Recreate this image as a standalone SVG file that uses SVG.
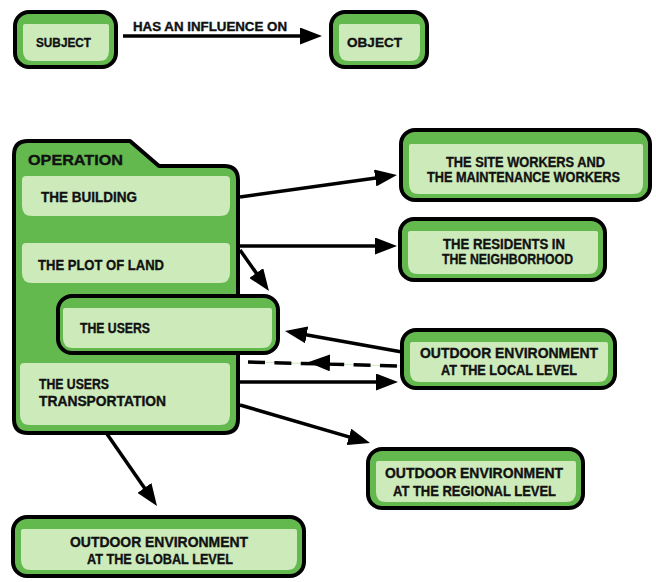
<svg xmlns="http://www.w3.org/2000/svg" width="656" height="582" viewBox="0 0 656 582">
<defs>
<style>
.box{fill:#63b84e;stroke:#000;stroke-width:4;stroke-linejoin:round}
.pan{fill:#cdeabb}
.t{font-family:"Liberation Sans",Arial,sans-serif;font-weight:bold;font-size:14px;fill:#111;stroke:#111;stroke-width:0.35}
.s{font-size:13.5px}
.c{fill:none;stroke:#000;stroke-width:3.5;marker-end:url(#ah)}
.d{fill:none;stroke:#000;stroke-width:3.5;stroke-dasharray:17 9.4}
.g{fill:none;stroke:#cdeabb;stroke-width:1}
.h{fill:none;stroke:none;marker-end:url(#ah)}
</style>
<marker id="ah" markerUnits="userSpaceOnUse" viewBox="0 0 22 17" refX="8" refY="8.5" markerWidth="22" markerHeight="17" orient="auto">
<polygon points="0,0 22,8.5 0,17" fill="#000"/>
</marker>
</defs>
<rect width="656" height="582" fill="#fff"/>

<g id="subject">
<rect class="box" x="15" y="12" width="101" height="55" rx="14"/>
<path class="pan" d="M25 24 H107 Q109 24 109 26 V51 Q109 61 99 61 H33 Q23 61 23 51 V26 Q23 24 25 24 Z"/>
<text class="t s" x="36" y="47" textLength="55" lengthAdjust="spacingAndGlyphs">SUBJECT</text>
</g>

<g id="object">
<rect class="box" x="331" y="12" width="96" height="55" rx="14"/>
<path class="pan" d="M341 24 H418 Q420 24 420 26 V51 Q420 61 410 61 H349 Q339 61 339 51 V26 Q339 24 341 24 Z"/>
<text class="t s" x="347" y="47" textLength="55" lengthAdjust="spacingAndGlyphs">OBJECT</text>
</g>

<g id="operation">
<path class="box" d="M14 155 Q14 141 28 141 H130 L159 166 H224 Q238 166 238 180 V419 Q238 433 224 433 H28 Q14 433 14 419 Z"/>
<text class="t" style="font-size:14.5px" x="28" y="165" textLength="95" lengthAdjust="spacingAndGlyphs">OPERATION</text>
<g id="building">
<path class="pan" d="M26 176 H226 Q230 176 230 180 V206 Q230 216 220 216 H32 Q22 216 22 206 V180 Q22 176 26 176 Z"/>
<text class="t" x="41" y="201.5" textLength="96" lengthAdjust="spacingAndGlyphs">THE BUILDING</text>
</g>
<g id="plot">
<path class="pan" d="M26 243 H226 Q230 243 230 247 V273 Q230 283 220 283 H32 Q22 283 22 273 V247 Q22 243 26 243 Z"/>
<text class="t" x="38" y="270" textLength="126" lengthAdjust="spacingAndGlyphs">THE PLOT OF LAND</text>
</g>
<g id="transportation">
<path class="pan" d="M24 363 H226 Q230 363 230 367 V415 Q230 425 220 425 H30 Q20 425 20 415 V367 Q20 363 24 363 Z"/>
<text class="t" x="39" y="389" textLength="70" lengthAdjust="spacingAndGlyphs">THE USERS</text>
<text class="t" x="39" y="405.5" textLength="127" lengthAdjust="spacingAndGlyphs">TRANSPORTATION</text>
</g>
</g>

<g id="users">
<rect class="box" x="58" y="296" width="220" height="57" rx="14"/>
<path class="pan" d="M65 308 H270 Q272 308 272 310 V338 Q272 348 262 348 H73 Q63 348 63 338 V310 Q63 308 65 308 Z"/>
<text class="t" x="80" y="333" textLength="70" lengthAdjust="spacingAndGlyphs">THE USERS</text>
</g>

<g id="workers">
<rect class="box" x="401" y="130" width="249" height="70" rx="14"/>
<path class="pan" d="M411 144 H641 Q643 144 643 146 V184 Q643 194 633 194 H419 Q409 194 409 184 V146 Q409 144 411 144 Z"/>
<text class="t" x="446" y="166.5" textLength="159" lengthAdjust="spacingAndGlyphs">THE SITE WORKERS AND</text>
<text class="t" x="427" y="181.5" textLength="193" lengthAdjust="spacingAndGlyphs">THE MAINTENANCE WORKERS</text>
</g>

<g id="residents">
<rect class="box" x="400" y="219" width="205" height="61" rx="14"/>
<path class="pan" d="M410 231 H596 Q598 231 598 233 V264 Q598 274 588 274 H418 Q408 274 408 264 V233 Q408 231 410 231 Z"/>
<text class="t" x="443" y="248.5" textLength="122" lengthAdjust="spacingAndGlyphs">THE RESIDENTS IN</text>
<text class="t" x="442" y="263.5" textLength="131" lengthAdjust="spacingAndGlyphs">THE NEIGHBORHOOD</text>
</g>

<g id="local">
<rect class="box" x="402" y="330" width="213" height="58" rx="14"/>
<path class="pan" d="M412 342 H606 Q608 342 608 344 V372 Q608 382 598 382 H420 Q410 382 410 372 V344 Q410 342 412 342 Z"/>
<text class="t" x="420" y="358" textLength="178" lengthAdjust="spacingAndGlyphs">OUTDOOR ENVIRONMENT</text>
<text class="t" x="441" y="375" textLength="136" lengthAdjust="spacingAndGlyphs">AT THE LOCAL LEVEL</text>
</g>

<g id="regional">
<rect class="box" x="368" y="449" width="215" height="59" rx="14"/>
<path class="pan" d="M378 461 H574 Q576 461 576 463 V492 Q576 502 566 502 H386 Q376 502 376 492 V463 Q376 461 378 461 Z"/>
<text class="t" x="385" y="478" textLength="178" lengthAdjust="spacingAndGlyphs">OUTDOOR ENVIRONMENT</text>
<text class="t" x="393" y="496" textLength="163" lengthAdjust="spacingAndGlyphs">AT THE REGIONAL LEVEL</text>
</g>

<g id="global">
<rect class="box" x="13" y="517" width="291" height="59" rx="14"/>
<path class="pan" d="M23 529 H295 Q297 529 297 531 V560 Q297 570 287 570 H31 Q21 570 21 560 V531 Q21 529 23 529 Z"/>
<text class="t" x="70" y="546.5" textLength="178" lengthAdjust="spacingAndGlyphs">OUTDOOR ENVIRONMENT</text>
<text class="t" x="87" y="563.5" textLength="146" lengthAdjust="spacingAndGlyphs">AT THE GLOBAL LEVEL</text>
</g>

<g id="connectors">
<path class="c" d="M123 36 L308 36"/>
<text class="t" style="font-size:12px" x="133" y="30.5" textLength="154" lengthAdjust="spacingAndGlyphs">HAS AN INFLUENCE ON</text>
<path class="c" d="M240 197 L383.1 176.9"/>
<path class="c" d="M240 246 L383 246"/>
<path class="c" d="M240 250 L260.9 279.6"/>
<path class="c" d="M402 352 L298.8 333.5"/>
<path class="g" d="M248 362 L400 366"/>
<path class="d" d="M248 362 L397 366"/>
<path class="h" d="M332 362.9 L322 362.6"/>
<path class="c" d="M240 382 L384 382"/>
<path class="c" d="M240 405 L356.6 439.1"/>
<path class="c" d="M107 434 L149 494.5"/>
</g>
</svg>
